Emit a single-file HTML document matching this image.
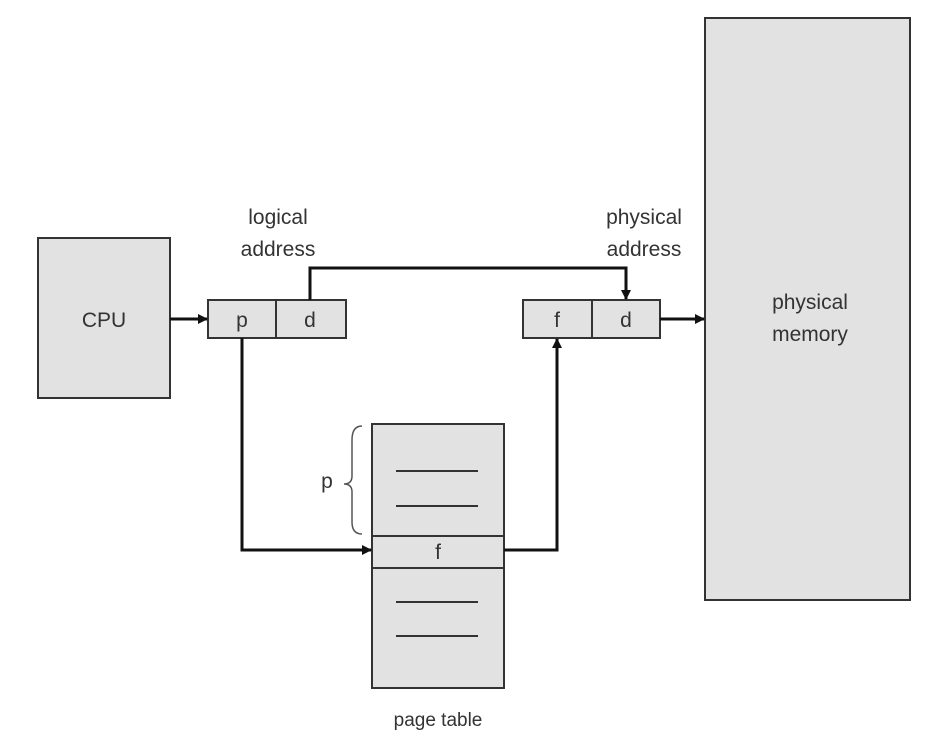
<!DOCTYPE html>
<html><head><meta charset="utf-8"><style>
html,body{margin:0;padding:0;background:#fff;}
svg{display:block;}
text{font-family:"Liberation Sans",sans-serif;fill:#333;}
</style></head><body>
<svg width="940" height="752" viewBox="0 0 940 752" xmlns="http://www.w3.org/2000/svg">
<defs>
<marker id="a" markerWidth="10" markerHeight="10" refX="9" refY="5" orient="auto" markerUnits="userSpaceOnUse" viewBox="0 0 10 10">
<path d="M0,0 L10,5 L0,10 z" fill="#111"/>
</marker>
</defs>
<g stroke="#333" stroke-width="2" fill="#e2e2e2">
<rect x="38" y="238" width="132" height="160"/>
<rect x="208" y="300" width="138" height="38"/>
<line x1="276" y1="300" x2="276" y2="338"/>
<rect x="523" y="300" width="137" height="38"/>
<line x1="592" y1="300" x2="592" y2="338"/>
<rect x="705" y="18" width="205" height="582"/>
<rect x="372" y="424" width="132" height="264"/>
<line x1="372" y1="536" x2="504" y2="536"/>
<line x1="372" y1="568" x2="504" y2="568"/>
<line x1="396" y1="471" x2="478" y2="471"/>
<line x1="396" y1="506" x2="478" y2="506"/>
<line x1="396" y1="602" x2="478" y2="602"/>
<line x1="396" y1="636" x2="478" y2="636"/>
</g>
<g stroke="#111" stroke-width="3" fill="none">
<line x1="170" y1="319" x2="207" y2="319" marker-end="url(#a)"/>
<polyline points="310,300 310,268 626,268 626,299" marker-end="url(#a)"/>
<polyline points="242,338 242,550 371,550" marker-end="url(#a)"/>
<polyline points="504,550 557,550 557,339" marker-end="url(#a)"/>
<line x1="660" y1="319" x2="704" y2="319" marker-end="url(#a)"/>
</g>
<path d="M362,426 Q352,426 352,440 L352,476 Q352,484 344,484 Q352,484 352,492 L352,522 Q352,534 362,534" stroke="#555" stroke-width="1.5" fill="none"/>
<g font-size="21" text-anchor="middle">
<text x="104" y="327">CPU</text>
<text x="242" y="327">p</text>
<text x="310" y="327">d</text>
<text x="557" y="327">f</text>
<text x="626" y="327">d</text>
<text x="438" y="559">f</text>
<text x="327" y="488">p</text>
<text x="278" y="224">logical</text>
<text x="278" y="256">address</text>
<text x="644" y="224">physical</text>
<text x="644" y="256">address</text>
<text x="810" y="309">physical</text>
<text x="810" y="341">memory</text>
<text x="438" y="726" font-size="19">page table</text>
</g>
</svg>
</body></html>
